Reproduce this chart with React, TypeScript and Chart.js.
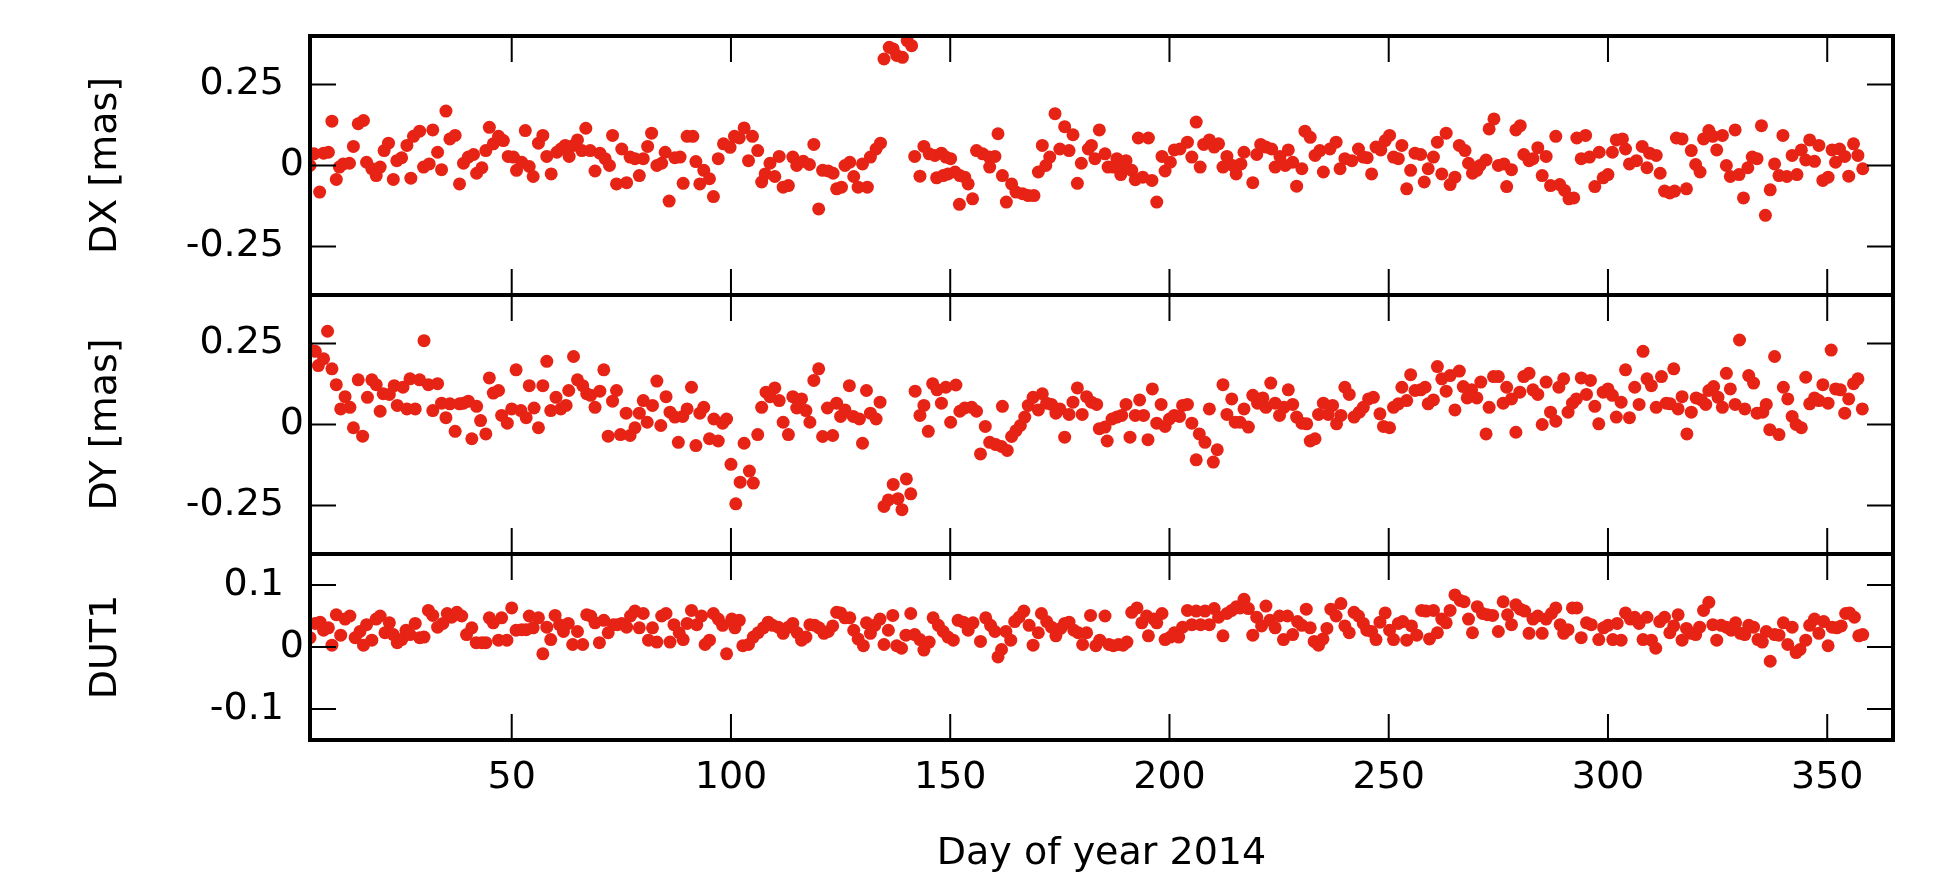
import React, { useEffect, useRef } from 'react';
import { Chart, registerables } from 'chart.js';

Chart.register(...registerables);

// ---------- data ----------
const X_MIN = 4;
const X_MAX = 365;
const xTickValues = [50, 100, 150, 200, 250, 300, 350];
const dxTickValues = [-0.25, 0, 0.25];
const dyTickValues = [-0.25, 0, 0.25];
const dut1TickValues = [-0.1, 0, 0.1];
const dxRange = [-0.4, 0.4];
const dyRange = [-0.4, 0.4];
const dut1Range = [-0.15, 0.15];
const xTitle = 'Day of year 2014';
const dxTitle = 'DX [mas]';
const dyTitle = 'DY [mas]';
const dut1Title = 'DUT1';

// [day, DX mas]
const dxPoints: [number, number][] = [
  [4.0, 0.0], [4.9, 0.036], [6.2, -0.082], [7.1, 0.038], [8.2, 0.041], [9.0, 0.137], [10.0, -0.043], [10.7, -0.005],
  [11.6, 0.005], [13.0, 0.007], [13.9, 0.059], [15.0, 0.129], [16.2, 0.139], [16.9, 0.01], [18.1, -0.01], [19.1, -0.031],
  [20.0, -0.005], [20.9, 0.046], [21.9, 0.069], [23.0, -0.043], [23.8, 0.015], [24.9, 0.024], [26.1, 0.062], [27.0, -0.039],
  [27.6, 0.09], [29.0, 0.106], [29.9, -0.005], [31.2, 0.005], [32.0, 0.11], [33.1, 0.041], [34.0, -0.013], [35.0, 0.168],
  [35.9, 0.082], [37.1, 0.093], [38.1, -0.057], [39.0, 0.007], [40.1, 0.026], [41.3, 0.034], [42.0, -0.024], [43.2, -0.007],
  [44.1, 0.046], [44.9, 0.118], [45.8, 0.067], [47.0, 0.09], [48.1, 0.077], [49.2, 0.028], [50.4, 0.026], [51.1, -0.015],
  [52.3, 0.01], [53.1, 0.108], [54.0, -0.003], [54.9, -0.034], [56.1, 0.069], [57.1, 0.093], [58.0, 0.028], [59.0, -0.026],
  [60.3, 0.041], [61.2, 0.051], [62.2, 0.062], [63.1, 0.028], [64.1, 0.062], [65.0, 0.079], [66.0, 0.046], [66.9, 0.115],
  [67.9, 0.046], [69.0, -0.017], [70.1, 0.038], [71.3, 0.021], [72.3, 0.0], [73.0, 0.093], [73.9, -0.057], [75.1, 0.051],
  [76.2, -0.053], [77.0, 0.026], [78.1, 0.021], [79.1, -0.031], [80.0, 0.021], [81.0, 0.059], [81.9, 0.1], [83.1, 0.0],
  [84.2, 0.007], [85.0, 0.041], [85.9, -0.11], [87.2, 0.024], [88.4, 0.026], [89.1, -0.055], [90.0, 0.09], [91.3, 0.09],
  [92.0, 0.012], [92.9, -0.057], [93.8, -0.015], [95.1, -0.041], [96.0, -0.096], [97.1, 0.021], [98.3, 0.067], [99.8, 0.056],
  [100.8, 0.09], [101.9, 0.085], [103.0, 0.116], [104.0, 0.015], [104.9, 0.09], [106.1, 0.046], [107.0, -0.051], [107.8, -0.026],
  [108.9, 0.007], [110.0, -0.034], [111.0, 0.028], [111.9, -0.067], [113.1, -0.062], [114.1, 0.026], [115.0, 0.0], [116.5, 0.013],
  [117.9, 0.003], [118.9, 0.065], [120.0, -0.134], [120.9, -0.015], [122.2, -0.017], [123.3, -0.024], [124.1, -0.072], [125.2, -0.067],
  [126.0, 0.0], [127.1, 0.01], [128.0, -0.034], [129.0, -0.067], [130.0, 0.005], [131.1, -0.067], [131.8, 0.026], [133.1, 0.051],
  [134.1, 0.069], [134.9, 0.329], [136.1, 0.365], [137.0, 0.36], [137.8, 0.34], [139.1, 0.334], [140.2, 0.386], [141.2, 0.37],
  [141.9, 0.028], [143.1, -0.033], [144.0, 0.059], [145.2, 0.036], [146.5, 0.031], [146.9, -0.038], [148.0, 0.038], [148.4, -0.031],
  [149.0, 0.026], [149.5, -0.026], [150.1, 0.021], [151.1, -0.02], [152.1, -0.12], [152.2, -0.031], [153.3, -0.036], [154.1, -0.057],
  [155.1, -0.103], [156.0, 0.046], [157.4, 0.036], [158.9, 0.026], [159.0, -0.005], [160.2, 0.028], [160.9, 0.098], [161.9, -0.031],
  [162.8, -0.113], [164.0, -0.057], [165.0, -0.082], [166.5, -0.087], [167.8, -0.093], [169.1, -0.093], [170.1, -0.02], [171.0, 0.062],
  [171.8, 0.0], [172.7, 0.026], [173.9, 0.16], [175.0, 0.051], [176.1, 0.12], [177.1, 0.046], [178.0, 0.095], [179.0, -0.055],
  [179.9, 0.007], [181.5, 0.051], [182.2, 0.062], [183.0, 0.021], [184.0, 0.11], [185.3, 0.036], [186.0, -0.005], [187.2, -0.005],
  [188.0, 0.021], [188.9, -0.028], [189.1, -0.015], [190.1, 0.015], [191.4, -0.015], [192.2, -0.044], [192.9, 0.085], [193.9, -0.036],
  [195.2, 0.085], [196.0, -0.046], [197.1, -0.113], [198.3, 0.028], [199.0, -0.017], [200.2, 0.01], [201.1, 0.048], [202.4, 0.051],
  [204.1, 0.072], [205.1, 0.026], [206.1, 0.134], [207.0, -0.005], [207.8, 0.065], [209.1, 0.079], [210.2, 0.057], [211.2, 0.067],
  [212.2, -0.005], [213.1, 0.028], [214.4, 0.0], [215.2, -0.026], [216.3, 0.005], [217.0, 0.041], [219.0, -0.053], [219.9, 0.034],
  [220.8, 0.065], [222.0, 0.057], [223.3, 0.051], [224.1, -0.005], [225.2, 0.028], [226.4, 0.0], [227.1, 0.048], [228.1, 0.01],
  [229.0, -0.064], [230.2, -0.01], [230.9, 0.106], [232.1, 0.087], [233.2, 0.031], [234.3, 0.046], [235.1, -0.02], [236.6, 0.051],
  [238.0, 0.072], [238.9, -0.01], [240.0, 0.021], [241.6, 0.015], [243.1, 0.051], [244.2, 0.026], [245.1, 0.024], [246.1, -0.026],
  [247.1, 0.057], [248.2, 0.048], [249.2, 0.077], [250.2, 0.093], [251.1, 0.026], [252.2, 0.021], [253.0, 0.062], [254.1, -0.072],
  [255.0, -0.015], [256.0, 0.038], [257.3, 0.034], [258.1, -0.051], [259.0, -0.01], [260.2, 0.026], [261.1, 0.072], [262.1, -0.026],
  [263.1, 0.1], [264.0, -0.059], [265.1, -0.036], [266.1, 0.062], [267.4, 0.046], [268.2, 0.007], [269.1, -0.024], [270.1, -0.015],
  [270.8, 0.0], [272.2, 0.017], [272.9, 0.113], [274.0, 0.144], [275.0, 0.0], [276.3, 0.005], [276.9, -0.065], [278.0, -0.013],
  [279.0, 0.11], [280.0, 0.123], [280.8, 0.034], [282.0, 0.015], [282.9, 0.021], [284.0, 0.055], [285.0, -0.031], [285.9, 0.028],
  [286.9, -0.062], [288.1, 0.09], [289.0, -0.059], [290.1, -0.077], [291.1, -0.103], [292.2, -0.1], [292.9, 0.085], [293.9, 0.021],
  [294.9, 0.093], [295.8, 0.026], [297.0, -0.065], [298.0, 0.041], [298.9, -0.038], [300.0, -0.028], [301.0, 0.041], [301.9, 0.079],
  [303.3, 0.082], [304.0, 0.051], [304.9, 0.005], [306.5, 0.015], [307.8, 0.059], [308.9, -0.007], [309.5, 0.038], [311.0, 0.031],
  [311.9, -0.024], [312.9, -0.079], [314.1, -0.085], [315.2, -0.079], [315.6, 0.085], [316.9, 0.082], [317.9, -0.072], [319.0, 0.046],
  [320.0, 0.003], [321.0, -0.02], [321.8, 0.082], [323.0, 0.108], [323.9, 0.09], [324.8, 0.048], [326.1, 0.093], [327.0, 0.0],
  [327.9, -0.034], [329.0, 0.11], [329.9, -0.028], [330.9, -0.1], [331.9, -0.007], [332.9, 0.026], [334.0, 0.021], [335.0, 0.123],
  [335.9, -0.154], [337.0, -0.075], [338.0, 0.005], [339.0, -0.031], [339.9, 0.093], [340.8, -0.034], [342.0, 0.031], [343.1, -0.028],
  [344.1, 0.048], [345.1, 0.017], [346.0, 0.079], [347.1, 0.013], [348.1, 0.062], [349.0, -0.046], [350.2, -0.036], [351.1, 0.048],
  [351.9, 0.01], [352.8, 0.051], [354.0, 0.028], [354.9, -0.033], [356.0, 0.067], [357.0, 0.031], [358.1, -0.01],
];

// [day, DY mas]
const dyPoints: [number, number][] = [
  [4.0, 0.23], [5.2, 0.226], [5.9, 0.182], [7.1, 0.203], [8.0, 0.288], [9.0, 0.172], [10.0, 0.123], [11.0, 0.048],
  [12.0, 0.086], [13.1, 0.053], [13.9, -0.01], [15.0, 0.138], [16.0, -0.036], [17.1, 0.084], [18.1, 0.138], [19.1, 0.123],
  [20.0, 0.041], [20.7, 0.095], [22.1, 0.093], [23.2, 0.12], [23.9, 0.059], [25.2, 0.115], [26.1, 0.048], [26.8, 0.141],
  [28.0, 0.048], [29.0, 0.138], [30.0, 0.259], [31.0, 0.123], [32.0, 0.043], [33.1, 0.126], [34.0, 0.066], [35.0, 0.021],
  [35.9, 0.064], [37.1, -0.021], [38.1, 0.064], [39.0, 0.066], [40.1, 0.072], [40.9, -0.044], [42.0, 0.056], [42.9, 0.012],
  [44.1, -0.029], [44.9, 0.144], [45.8, 0.097], [47.0, 0.105], [47.7, 0.028], [49.0, 0.004], [50.0, 0.048], [51.0, 0.169],
  [52.1, 0.043], [53.3, 0.021], [54.0, 0.12], [55.1, 0.051], [56.1, -0.01], [57.1, 0.12], [58.0, 0.195], [58.9, 0.043],
  [60.1, 0.084], [61.2, 0.048], [62.4, 0.059], [63.0, 0.105], [64.1, 0.21], [65.0, 0.138], [66.2, 0.12], [67.1, 0.095],
  [68.0, 0.09], [69.0, 0.053], [70.1, 0.103], [71.0, 0.169], [72.0, -0.036], [73.0, 0.072], [73.9, 0.105], [74.8, -0.031],
  [76.1, 0.035], [77.0, -0.034], [78.1, -0.01], [79.1, 0.035], [80.0, 0.074], [80.9, 0.007], [82.1, 0.059], [83.1, 0.134],
  [84.0, -0.003], [85.2, 0.086], [86.1, 0.038], [87.2, 0.023], [88.0, -0.055], [89.0, 0.025], [90.0, 0.048], [91.0, 0.115],
  [92.0, -0.065], [92.9, 0.035], [93.8, 0.053], [95.1, -0.044], [96.1, 0.017], [97.1, -0.051], [98.1, 0.004], [99.0, 0.017],
  [100.0, -0.123], [101.1, -0.245], [102.1, -0.178], [103.0, -0.058], [104.2, -0.144], [105.1, -0.181], [106.1, -0.031], [107.0, 0.053],
  [108.0, 0.1], [108.9, 0.086], [110.0, 0.113], [111.0, 0.074], [111.9, 0.007], [113.1, -0.031], [114.1, 0.086], [115.0, 0.051],
  [116.1, 0.079], [117.1, 0.043], [118.0, 0.007], [118.9, 0.136], [120.0, 0.172], [120.9, -0.037], [122.0, 0.051], [123.2, -0.034],
  [124.1, 0.066], [125.0, 0.025], [126.0, 0.045], [127.0, 0.12], [127.9, 0.025], [129.3, 0.017], [130.0, -0.058], [130.9, 0.105],
  [131.8, 0.035], [133.1, 0.017], [134.0, 0.069], [134.9, -0.253], [135.9, -0.233], [137.0, -0.185], [138.1, -0.229], [139.0, -0.263],
  [140.0, -0.168], [141.0, -0.214], [142.0, 0.103], [143.1, 0.028], [144.0, 0.059], [145.0, -0.021], [146.0, 0.126], [147.0, 0.107],
  [148.0, 0.066], [149.0, 0.115], [150.1, 0.007], [151.3, 0.122], [152.2, 0.041], [153.3, 0.051], [154.9, 0.053], [156.0, 0.041],
  [156.9, -0.091], [158.0, -0.006], [159.0, -0.055], [160.4, -0.062], [161.7, -0.068], [161.9, 0.056], [163.0, -0.08], [164.0, -0.037],
  [165.0, -0.019], [166.0, -0.003], [167.0, 0.023], [167.8, 0.059], [168.9, 0.084], [170.1, 0.045], [171.0, 0.095], [172.0, 0.066],
  [173.1, 0.062], [174.1, 0.035], [175.0, 0.048], [176.1, -0.039], [177.1, 0.031], [178.0, 0.069], [179.0, 0.113], [180.1, 0.031],
  [181.1, 0.086], [182.2, 0.069], [183.4, 0.062], [184.0, -0.013], [185.3, -0.008], [185.8, -0.051], [186.9, 0.017], [188.0, 0.023],
  [189.1, 0.028], [190.1, 0.062], [191.0, -0.039], [192.2, 0.028], [193.2, 0.076], [194.1, 0.028], [195.1, -0.047], [196.1, 0.11],
  [197.1, 0.004], [198.1, 0.062], [199.0, -0.006], [200.0, 0.017], [201.1, 0.028], [202.3, 0.025], [203.0, 0.059], [204.1, 0.062],
  [205.1, 0.004], [206.1, -0.109], [206.8, -0.029], [208.1, -0.055], [209.1, 0.048], [210.0, -0.116], [210.9, -0.078], [212.2, 0.123],
  [213.1, 0.031], [214.2, 0.079], [215.0, 0.007], [216.1, 0.007], [217.0, 0.048], [218.0, -0.008], [219.0, 0.09], [220.1, 0.066],
  [221.3, 0.082], [222.0, 0.053], [223.1, 0.128], [224.1, 0.066], [225.1, 0.028], [226.1, 0.053], [227.1, 0.107], [228.1, 0.062],
  [229.0, 0.023], [230.2, 0.004], [231.3, 0.002], [232.1, -0.051], [233.2, -0.044], [234.0, 0.031], [235.1, 0.066], [236.2, 0.031],
  [237.2, 0.059], [238.1, 0.002], [239.1, 0.028], [240.0, 0.115], [241.0, 0.093], [242.1, 0.023], [243.3, 0.038], [244.2, 0.053],
  [245.4, 0.079], [246.5, 0.084], [248.0, 0.033], [248.8, -0.006], [250.2, -0.01], [251.1, 0.053], [252.2, 0.064], [253.0, 0.115],
  [254.1, 0.074], [255.0, 0.154], [256.0, 0.105], [257.3, 0.107], [258.3, 0.115], [259.0, 0.064], [260.2, 0.076], [261.1, 0.179],
  [262.1, 0.141], [263.1, 0.103], [264.0, 0.151], [265.1, 0.045], [266.1, 0.165], [267.0, 0.117], [267.9, 0.082], [268.9, 0.107],
  [270.1, 0.082], [271.0, 0.131], [272.2, -0.029], [272.9, 0.053], [273.9, 0.148], [275.0, 0.148], [276.1, 0.066], [276.9, 0.115],
  [278.0, 0.079], [279.0, -0.024], [279.9, 0.1], [280.8, 0.148], [282.0, 0.158], [282.9, 0.107], [284.0, 0.093], [285.0, 0.0],
  [285.9, 0.131], [286.9, 0.038], [288.1, 0.01], [288.8, 0.115], [289.9, 0.141], [290.9, 0.038], [291.9, 0.066], [292.8, 0.079],
  [293.9, 0.144], [295.1, 0.093], [296.0, 0.136], [297.0, 0.056], [297.9, 0.002], [298.9, 0.1], [300.0, 0.11], [301.0, 0.09],
  [301.9, 0.023], [303.0, 0.069], [304.0, 0.169], [304.9, 0.021], [306.1, 0.115], [307.1, 0.062], [308.0, 0.226], [308.9, 0.141],
  [309.9, 0.12], [311.0, 0.053], [312.2, 0.148], [313.3, 0.066], [314.2, 0.064], [315.0, 0.172], [316.0, 0.048], [316.9, 0.086],
  [318.0, -0.029], [319.0, 0.038], [320.1, 0.082], [321.3, 0.076], [322.3, 0.062], [323.0, 0.105], [324.1, 0.117], [325.1, 0.084],
  [326.1, 0.053], [327.0, 0.158], [327.9, 0.11], [329.0, 0.062], [330.0, 0.261], [331.2, 0.048], [332.1, 0.151], [333.2, 0.128],
  [334.0, 0.035], [335.3, 0.038], [336.1, 0.062], [336.9, -0.016], [338.0, 0.21], [339.0, -0.031], [340.0, 0.115], [341.0, 0.079],
  [342.0, 0.025], [342.9, 0.0], [344.1, -0.01], [345.1, 0.146], [346.0, 0.064], [347.1, 0.082], [348.1, 0.074], [349.0, 0.123],
  [350.2, 0.066], [350.9, 0.23], [351.9, 0.11], [353.0, 0.107], [354.0, 0.035], [354.9, 0.079], [356.0, 0.126], [357.0, 0.141],
  [358.0, 0.048],
];

// [day, DUT1 ms]
const dut1Points: [number, number][] = [
  [4.0, 0.015], [5.2, 0.038], [6.3, 0.04], [7.1, 0.027], [8.2, 0.031], [9.0, 0.003], [10.0, 0.052], [11.0, 0.019],
  [12.0, 0.045], [13.1, 0.05], [14.3, 0.015], [15.4, 0.025], [16.2, 0.003], [16.9, 0.036], [18.1, 0.011], [19.1, 0.045],
  [20.0, 0.05], [21.1, 0.023], [22.1, 0.039], [23.0, 0.02], [23.9, 0.007], [24.9, 0.012], [25.9, 0.027], [26.8, 0.02],
  [28.0, 0.038], [29.0, 0.015], [30.0, 0.016], [31.0, 0.059], [32.0, 0.051], [33.1, 0.032], [34.3, 0.038], [35.3, 0.054],
  [36.3, 0.048], [37.5, 0.056], [38.6, 0.05], [39.7, 0.02], [40.9, 0.031], [41.9, 0.007], [43.2, 0.007], [44.1, 0.007],
  [44.9, 0.047], [45.8, 0.039], [47.0, 0.011], [47.7, 0.047], [48.9, 0.011], [50.0, 0.063], [51.0, 0.027], [52.3, 0.028],
  [53.3, 0.028], [54.0, 0.05], [54.9, 0.031], [56.1, 0.047], [57.1, -0.011], [58.0, 0.032], [58.9, 0.012], [59.9, 0.051],
  [60.9, 0.036], [61.8, 0.025], [62.9, 0.038], [63.9, 0.004], [65.0, 0.025], [66.2, 0.004], [67.1, 0.052], [68.0, 0.05],
  [69.0, 0.039], [70.0, 0.007], [71.0, 0.043], [72.0, 0.023], [73.2, 0.036], [74.1, 0.036], [75.1, 0.038], [76.2, 0.032],
  [77.1, 0.05], [78.1, 0.058], [79.1, 0.031], [80.0, 0.054], [81.2, 0.011], [82.1, 0.031], [83.1, 0.008], [84.2, 0.05],
  [85.2, 0.054], [86.1, 0.008], [87.0, 0.036], [88.2, 0.023], [89.1, 0.012], [90.0, 0.038], [91.0, 0.059], [92.2, 0.036],
  [93.3, 0.05], [94.1, 0.004], [95.1, 0.011], [96.0, 0.054], [97.1, 0.045], [98.1, 0.035], [99.0, -0.011], [100.2, 0.045],
  [100.9, 0.031], [101.9, 0.043], [102.7, 0.002], [104.0, 0.004], [105.1, 0.016], [106.2, 0.023], [107.4, 0.031], [108.5, 0.04],
  [109.5, 0.035], [110.8, 0.032], [111.9, 0.022], [113.1, 0.032], [114.1, 0.038], [115.1, 0.023], [116.1, 0.011], [117.1, 0.016],
  [118.0, 0.036], [119.1, 0.035], [120.1, 0.031], [121.2, 0.022], [122.2, 0.025], [123.2, 0.034], [124.1, 0.056], [125.0, 0.055],
  [126.0, 0.047], [127.1, 0.047], [128.0, 0.027], [129.0, 0.013], [130.2, 0.002], [130.9, 0.039], [131.8, 0.022], [132.8, 0.035],
  [134.0, 0.045], [134.9, 0.004], [135.9, 0.027], [136.9, 0.051], [137.8, 0.002], [138.9, -0.002], [139.9, 0.019], [141.0, 0.054],
  [141.9, 0.02], [143.1, 0.012], [144.0, -0.005], [145.2, 0.008], [146.1, 0.047], [147.3, 0.035], [148.4, 0.025], [149.5, 0.016],
  [150.7, 0.011], [151.8, 0.043], [153.0, 0.04], [154.1, 0.027], [155.2, 0.039], [156.9, 0.009], [158.1, 0.047], [159.2, 0.035],
  [160.2, 0.025], [160.9, -0.016], [161.7, -0.004], [162.7, 0.025], [163.8, 0.011], [164.7, 0.041], [165.7, 0.048], [166.8, 0.058],
  [168.0, 0.035], [168.9, 0.003], [170.1, 0.023], [170.8, 0.054], [172.0, 0.041], [173.1, 0.032], [174.1, 0.018], [175.2, 0.03],
  [176.1, 0.038], [177.1, 0.04], [178.2, 0.027], [179.2, 0.023], [180.2, 0.004], [181.1, 0.023], [182.0, 0.051], [183.2, 0.002],
  [184.1, 0.011], [185.3, 0.05], [186.2, 0.004], [187.2, 0.002], [188.4, 0.004], [189.4, 0.003], [190.3, 0.008], [191.4, 0.056],
  [192.6, 0.063], [193.7, 0.039], [194.8, 0.05], [195.2, 0.018], [196.4, 0.045], [197.1, 0.039], [198.3, 0.054], [199.0, 0.012],
  [200.2, 0.016], [201.1, 0.023], [202.1, 0.016], [203.0, 0.032], [204.1, 0.059], [205.1, 0.036], [206.1, 0.058], [207.1, 0.036],
  [208.1, 0.058], [209.1, 0.036], [210.2, 0.062], [211.2, 0.048], [212.2, 0.018], [213.1, 0.054], [214.2, 0.059], [215.3, 0.065],
  [216.1, 0.063], [217.0, 0.077], [218.0, 0.062], [219.0, 0.019], [219.9, 0.048], [221.0, 0.034], [222.0, 0.066], [222.9, 0.043],
  [224.1, 0.031], [225.1, 0.05], [226.0, 0.012], [226.9, 0.05], [228.1, 0.02], [229.2, 0.041], [230.2, 0.035], [231.2, 0.061],
  [232.1, 0.031], [233.0, 0.009], [234.0, 0.003], [235.0, 0.013], [235.9, 0.03], [236.8, 0.061], [238.0, 0.05], [239.1, 0.07],
  [240.0, 0.034], [241.0, 0.023], [242.1, 0.056], [243.1, 0.05], [244.2, 0.038], [245.0, 0.027], [246.1, 0.025], [247.1, 0.012],
  [248.0, 0.04], [249.2, 0.055], [250.2, 0.027], [251.1, 0.012], [252.2, 0.038], [253.2, 0.041], [254.1, 0.011], [255.2, 0.034],
  [256.4, 0.019], [257.5, 0.059], [258.5, 0.058], [259.3, 0.013], [260.2, 0.059], [261.1, 0.023], [262.1, 0.045], [263.1, 0.039],
  [264.0, 0.059], [265.1, 0.084], [266.3, 0.075], [267.2, 0.073], [268.2, 0.045], [269.1, 0.023], [270.2, 0.065], [271.4, 0.054],
  [272.5, 0.052], [273.7, 0.051], [275.0, 0.025], [276.1, 0.073], [277.1, 0.052], [278.0, 0.036], [279.0, 0.068], [280.0, 0.061],
  [281.0, 0.058], [282.0, 0.022], [282.9, 0.045], [284.0, 0.05], [285.0, 0.022], [285.9, 0.045], [287.1, 0.054], [288.1, 0.063],
  [289.1, 0.036], [289.9, 0.022], [290.9, 0.028], [291.9, 0.063], [292.9, 0.063], [293.9, 0.015], [295.1, 0.039], [296.2, 0.036],
  [297.9, 0.012], [299.0, 0.031], [300.0, 0.035], [301.1, 0.012], [302.1, 0.038], [303.0, 0.011], [304.0, 0.055], [305.1, 0.045],
  [306.1, 0.048], [307.1, 0.038], [308.0, 0.012], [308.9, 0.048], [309.9, 0.011], [310.9, -0.002], [311.8, 0.041], [312.9, 0.048],
  [314.1, 0.023], [315.0, 0.034], [316.0, 0.052], [316.9, 0.011], [317.9, 0.03], [319.0, 0.022], [320.0, 0.02], [320.9, 0.032],
  [321.8, 0.059], [323.0, 0.072], [323.9, 0.036], [324.8, 0.011], [325.8, 0.035], [327.0, 0.032], [328.1, 0.027], [329.1, 0.039],
  [330.2, 0.022], [331.2, 0.02], [332.1, 0.035], [333.2, 0.032], [334.2, 0.012], [335.2, 0.008], [336.1, 0.025], [337.0, -0.023],
  [338.0, 0.02], [339.0, 0.019], [340.0, 0.039], [341.0, 0.004], [342.0, 0.032], [342.9, -0.009], [343.8, -0.004], [345.1, 0.011],
  [346.0, 0.035], [347.1, 0.045], [348.1, 0.022], [349.2, 0.041], [350.2, 0.002], [351.1, 0.032], [352.2, 0.031], [353.2, 0.034],
  [354.2, 0.054], [355.1, 0.055], [356.2, 0.048], [357.2, 0.018], [358.1, 0.02],
];

// ---------- styling ----------
const FONT_FAMILY = "'DejaVu Sans', sans-serif";
const FONT_SIZE = 38;
const POINT_COLOR = '#e62314';
const WIDTH = 1951;
const HEIGHT = 873;
const PLOT_LEFT = 310;
const PLOT_RIGHT = 1893;
const PLOT_TOP = 36;
const PLOT_BOTTOM = 740;
const TICK_LEN = 26;
const Y_LABEL_GAP = 26;
const Y_ZERO_LABEL_GAP = 6;

const panelDefs = [
  // order: bottom-most first (Chart.js stacks the last-defined axis on top)
  { id: 'yDUT', title: dut1Title, range: dut1Range, ticks: dut1TickValues, weight: 186, pts: dut1Points },
  { id: 'yDY', title: dyTitle, range: dyRange, ticks: dyTickValues, weight: 259, pts: dyPoints },
  { id: 'yDX', title: dxTitle, range: dxRange, ticks: dxTickValues, weight: 259, pts: dxPoints },
];

const zeroPadding = (scale: any) => {
  scale.paddingTop = 0;
  scale.paddingBottom = 0;
  scale.paddingLeft = 0;
  scale.paddingRight = 0;
};

const framePlugin = {
  id: 'gnuplotFrames',
  afterDatasetsDraw(chart: any) {
    const { ctx, chartArea } = chart;
    const { left, right } = chartArea;
    const xs = chart.scales.x;
    ctx.save();
    ctx.strokeStyle = '#000';
    for (const p of panelDefs) {
      const s = chart.scales[p.id];
      const top = s.top;
      const bottom = s.bottom;
      ctx.lineWidth = 2;
      ctx.beginPath();
      for (const v of xTickValues) {
        const px = xs.getPixelForValue(v);
        ctx.moveTo(px, top);
        ctx.lineTo(px, top + TICK_LEN);
        ctx.moveTo(px, bottom);
        ctx.lineTo(px, bottom - TICK_LEN);
      }
      for (const t of s.ticks) {
        const py = s.getPixelForValue(t.value);
        ctx.moveTo(left, py);
        ctx.lineTo(left + TICK_LEN, py);
        ctx.moveTo(right, py);
        ctx.lineTo(right - TICK_LEN, py);
      }
      ctx.stroke();
      ctx.lineWidth = 4;
      ctx.strokeRect(left, top, right - left, bottom - top);

      // y tick labels (right-justified next to the frame)
      ctx.fillStyle = '#000';
      ctx.font = `${FONT_SIZE}px ${FONT_FAMILY}`;
      ctx.textAlign = 'right';
      ctx.textBaseline = 'middle';
      for (const t of s.ticks) {
        const py = s.getPixelForValue(t.value);
        const gap = t.value === 0 ? Y_ZERO_LABEL_GAP : Y_LABEL_GAP;
        ctx.fillText(String(t.value), left - gap, py);
      }
    }
    ctx.restore();
  },
};

export default function App() {
  const canvasRef = useRef<HTMLCanvasElement | null>(null);

  useEffect(() => {
    const canvas = canvasRef.current;
    if (!canvas) return;
    Chart.defaults.font.family = FONT_FAMILY;
    Chart.defaults.font.size = FONT_SIZE;
    Chart.defaults.color = '#000';

    const scales: any = {
      x: {
        type: 'linear',
        position: 'bottom',
        min: X_MIN,
        max: X_MAX,
        afterBuildTicks: (scale: any) => {
          scale.ticks = xTickValues.map((v) => ({ value: v }));
        },
        ticks: { padding: 15, font: { size: FONT_SIZE }, color: '#000', callback: (v: any) => String(v) },
        grid: { display: false, drawTicks: false },
        border: { display: false },
        title: { display: true, text: xTitle, font: { size: FONT_SIZE, lineHeight: 1 }, color: '#000', padding: { top: 0, bottom: 0 } },
        afterFit: (scale: any) => {
          scale.height = HEIGHT - PLOT_BOTTOM;
          zeroPadding(scale);
        },
      },
    };
    for (const p of panelDefs) {
      scales[p.id] = {
        type: 'linear',
        position: 'left',
        stack: 'panels',
        stackWeight: p.weight,
        min: p.range[0],
        max: p.range[1],
        afterBuildTicks: (scale: any) => {
          scale.ticks = p.ticks.map((v) => ({ value: v }));
        },
        ticks: { display: false },
        grid: { display: false, drawTicks: false },
        border: { display: false },
        title: { display: true, text: p.title, font: { size: FONT_SIZE }, color: '#000', padding: { top: 83, bottom: 0 } },
        afterFit: (scale: any) => {
          scale.width = PLOT_LEFT;
          zeroPadding(scale);
        },
      };
    }

    const chart = new Chart(canvas, {
      type: 'scatter',
      data: {
        datasets: panelDefs.map((p) => ({
          label: p.title,
          data: p.pts.map(([x, y]) => ({ x, y })),
          xAxisID: 'x',
          yAxisID: p.id,
          pointRadius: 6.5,
          pointHoverRadius: 6.5,
          pointBackgroundColor: POINT_COLOR,
          pointBorderWidth: 0,
          pointBorderColor: POINT_COLOR,
          showLine: false,
        })),
      },
      options: {
        animation: false,
        responsive: false,
        events: [],
        layout: { padding: { left: 0, top: PLOT_TOP, right: WIDTH - PLOT_RIGHT, bottom: 0 } },
        plugins: { legend: { display: false }, tooltip: { enabled: false } },
        scales,
      },
      plugins: [framePlugin],
    } as any);

    return () => chart.destroy();
  }, []);

  return (
    <div style={{ position: 'absolute', left: 0, top: 0, width: WIDTH, height: HEIGHT, background: '#fff' }}>
      <canvas ref={canvasRef} width={WIDTH} height={HEIGHT} style={{ display: 'block', width: WIDTH, height: HEIGHT }} />
    </div>
  );
}
